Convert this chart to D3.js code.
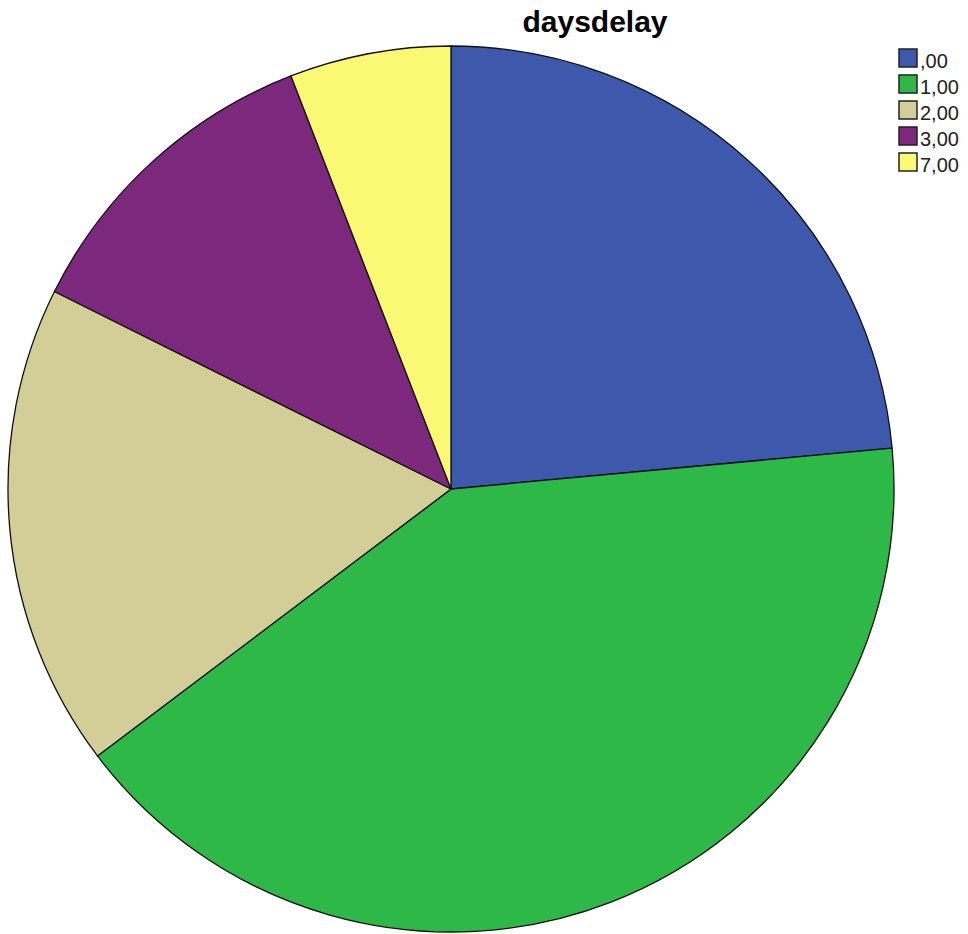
<!DOCTYPE html>
<html>
<head>
<meta charset="utf-8">
<script src="https://cdn.jsdelivr.net/npm/d3@7"></script>
<style>
  body{margin:0;background:#fff;}
  text{font-family:"Liberation Sans",Arial,sans-serif;}
</style>
</head>
<body>
<div id="container"></div>
<script>
const categories=[',00','1,00','2,00','3,00','7,00'];
const counts=[4,7,3,2,1];
const colors=['#3E58AC','#2EB848','#D3CE97','#7C287D','#FBF873'];
const title='daysdelay';

const width=968;
const height=934;
const cx=451, cy=489, radius=443;

const svg=d3.select('#container')
          .append('svg')
          .attr('width',width)
          .attr('height',height)

const data=categories.map((c,i)=> ({cat:c,value:counts[i],color:colors[i]}));

const pie=d3.pie()
       .value(d=> d.value)
       .sort(null)
       .startAngle(0)
       .endAngle(2*Math.PI);

const arc=d3.arc()
       .innerRadius(0)
       .outerRadius(radius);

svg.append('g')
   .attr('transform',`translate(${cx},${cy})`)
   .selectAll('path')
   .data(pie(data))
   .enter()
   .append('path')
   .attr('d',arc)
   .attr('fill',d=> d.data.color)
   .attr('stroke','#111')
   .attr('stroke-width',1.3)
   .attr('stroke-linejoin','round');

svg.append('text')
   .attr('x',595)
   .attr('y',32)
   .attr('text-anchor','middle')
   .attr('font-size',30)
   .attr('font-weight','bold')
   .attr('fill','#000')
   .text(title);

// legend
const legendY=d3.scaleBand()
       .domain(categories)
       .range([49,179])
       .paddingInner(0);

const legend=svg.append('g')
   .selectAll('g')
   .data(data)
   .enter()
   .append('g')
   .attr('transform',d=> `translate(899,${legendY(d.cat)})`);

legend.append('rect')
   .attr('width',18)
   .attr('height',18)
   .attr('fill',d=> d.color)
   .attr('stroke','#222')
   .attr('stroke-width',1.5);

legend.append('text')
   .attr('x',21)
   .attr('y',19)
   .attr('font-size',20)
   .attr('fill','#222')
   .text(d=> d.cat);
</script>
</body>
</html>
